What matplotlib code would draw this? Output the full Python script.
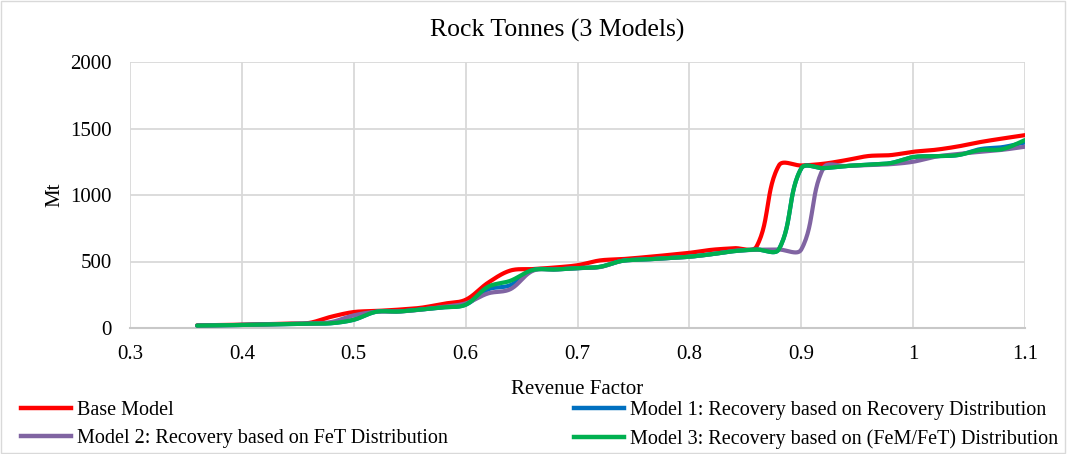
import numpy as np
import matplotlib
matplotlib.use("Agg")
import matplotlib.pyplot as plt
from matplotlib.lines import Line2D
from matplotlib.patches import Rectangle

# Revenue factor steps (0.36 .. 1.10 in 0.02 steps)
revenue_factor = [0.36, 0.38, 0.40, 0.42, 0.44, 0.46, 0.48, 0.50, 0.52, 0.54,
                  0.56, 0.58, 0.60, 0.62, 0.64, 0.66, 0.68, 0.70, 0.72, 0.74,
                  0.76, 0.78, 0.80, 0.82, 0.84, 0.86, 0.88, 0.90, 0.92, 0.94,
                  0.96, 0.98, 1.00, 1.02, 1.04, 1.06, 1.08, 1.10]

# Rock tonnes (Mt) per model
base_model = [20, 22, 25, 28, 33, 38, 85, 120, 128, 138,
              152, 182, 212, 340, 432, 443, 455, 472, 508, 518,
              532, 548, 565, 588, 600, 612, 1222, 1222, 1235, 1262,
              1293, 1300, 1325, 1340, 1365, 1398, 1425, 1450]
model_1 = [18, 20, 23, 27, 30, 33, 36, 62, 122, 124,
           140, 155, 175, 290, 322, 435, 440, 450, 460, 505,
           515, 525, 536, 555, 578, 590, 592, 1200, 1202, 1218,
           1228, 1240, 1285, 1292, 1300, 1345, 1360, 1395]
model_2 = [18, 20, 23, 27, 30, 33, 45, 95, 122, 124,
           138, 160, 185, 260, 292, 430, 440, 450, 458, 505,
           515, 525, 536, 555, 580, 588, 590, 590, 1205, 1218,
           1225, 1232, 1250, 1288, 1308, 1325, 1340, 1363]
model_3 = [18, 20, 23, 27, 30, 33, 36, 62, 122, 124,
           140, 155, 175, 310, 355, 436, 440, 450, 460, 505,
           515, 525, 536, 555, 578, 590, 592, 1200, 1202, 1218,
           1228, 1240, 1285, 1292, 1300, 1338, 1345, 1413]

series_labels = ["Base Model",
                 "Model 1: Recovery based on Recovery Distribution",
                 "Model 2: Recovery based on FeT Distribution",
                 "Model 3: Recovery based on (FeM/FeT) Distribution"]
series_colors = ["#FF0000", "#0070C0", "#8064A2", "#00B050"]
x_ticks = [0.3, 0.4, 0.5, 0.6, 0.7, 0.8, 0.9, 1.0, 1.1]
x_tick_labels = ["0.3", "0.4", "0.5", "0.6", "0.7", "0.8", "0.9", "1", "1.1"]
y_ticks = [0, 500, 1000, 1500, 2000]

# screen scale used for the smoothing (pixels per data unit)
X_SCALE = 1119.0
Y_SCALE = 266.0 / 2000.0


def smooth(xs, ys, n=30):
    """Smoothed line through every point: Bezier segments whose control
    points follow the neighbour direction, scaled by the segment length."""
    p = np.column_stack([np.asarray(xs) * X_SCALE, np.asarray(ys) * Y_SCALE]).astype(float)
    m = len(p)
    dirs = np.zeros_like(p)
    for i in range(m):
        a = p[max(i - 1, 0)]
        b = p[min(i + 1, m - 1)]
        d = b - a
        dirs[i] = d / np.hypot(*d)
    t = np.linspace(0, 1, n, endpoint=False)[:, None]
    out = []
    for i in range(m - 1):
        p1, p2 = p[i], p[i + 1]
        seg_len = np.hypot(*(p2 - p1))
        c1 = p1 + dirs[i] * seg_len / 3.0
        c2 = p2 - dirs[i + 1] * seg_len / 3.0
        seg = ((1 - t) ** 3) * p1 + 3 * ((1 - t) ** 2) * t * c1 \
            + 3 * (1 - t) * t ** 2 * c2 + t ** 3 * p2
        out.append(seg)
    out.append(p[-1][None, :])
    arr = np.vstack(out)
    return arr[:, 0] / X_SCALE, arr[:, 1] / Y_SCALE


plt.rcParams["font.family"] = ["Liberation Serif", "DejaVu Serif"]

fig = plt.figure(figsize=(10.67, 4.54), dpi=100)
fig.patches.append(Rectangle((0.001, 0.002), 0.997, 0.995, transform=fig.transFigure,
                             fill=False, edgecolor="#d9d9d9", linewidth=1.0))
ax = fig.add_axes([130 / 1067, 1 - 328 / 454, (1025 - 130) / 1067, (328 - 62) / 454])

all_series = [base_model, model_1, model_2, model_3]
for z, (vals, col, lab) in enumerate(zip(all_series, series_colors, series_labels)):
    sx, sy = smooth(revenue_factor, vals)
    ax.plot(sx, sy, color=col, lw=3.0, label=lab, zorder=3 + z,
            solid_capstyle="round", solid_joinstyle="round")

ax.set_xlim(0.3, 1.1)
ax.set_ylim(0, 2000)
ax.set_xticks(x_ticks)
ax.set_xticklabels(x_tick_labels)
ax.set_yticks(y_ticks)
ax.tick_params(axis="both", length=0, labelsize=15, colors="#000000")
ax.tick_params(axis="x", pad=12)
ax.tick_params(axis="y", pad=13)
ax.grid(True, color="#d9d9d9", linewidth=1.3)
ax.set_axisbelow(True)
for side in ["top", "right", "left"]:
    ax.spines[side].set_visible(False)
ax.spines["bottom"].set_color("#c8c8c8")
ax.spines["bottom"].set_linewidth(1.5)

fig.text(557 / 1067, 1 - 30 / 454, "Rock Tonnes (3 Models)", fontsize=18.5,
         ha="center", va="center")
ax.set_ylabel("Mt", fontsize=15, labelpad=4)
ax.set_xlabel("Revenue Factor", fontsize=15, labelpad=12)

handles = [Line2D([0], [0], color=c, lw=3.2) for c in series_colors]
leg_kw = dict(frameon=False, fontsize=14.5, handlelength=2.5, handletextpad=0.3,
              labelspacing=0.46, borderpad=0, borderaxespad=0, loc="upper left")
fig.legend([handles[0], handles[2]], [series_labels[0], series_labels[2]],
           bbox_to_anchor=(21 / 1067, 1 - 401 / 454), **leg_kw)
fig.legend([handles[1], handles[3]], [series_labels[1], series_labels[3]],
           bbox_to_anchor=(574 / 1067, 1 - 401 / 454), **leg_kw)

fig.savefig("out.png", dpi=100)
